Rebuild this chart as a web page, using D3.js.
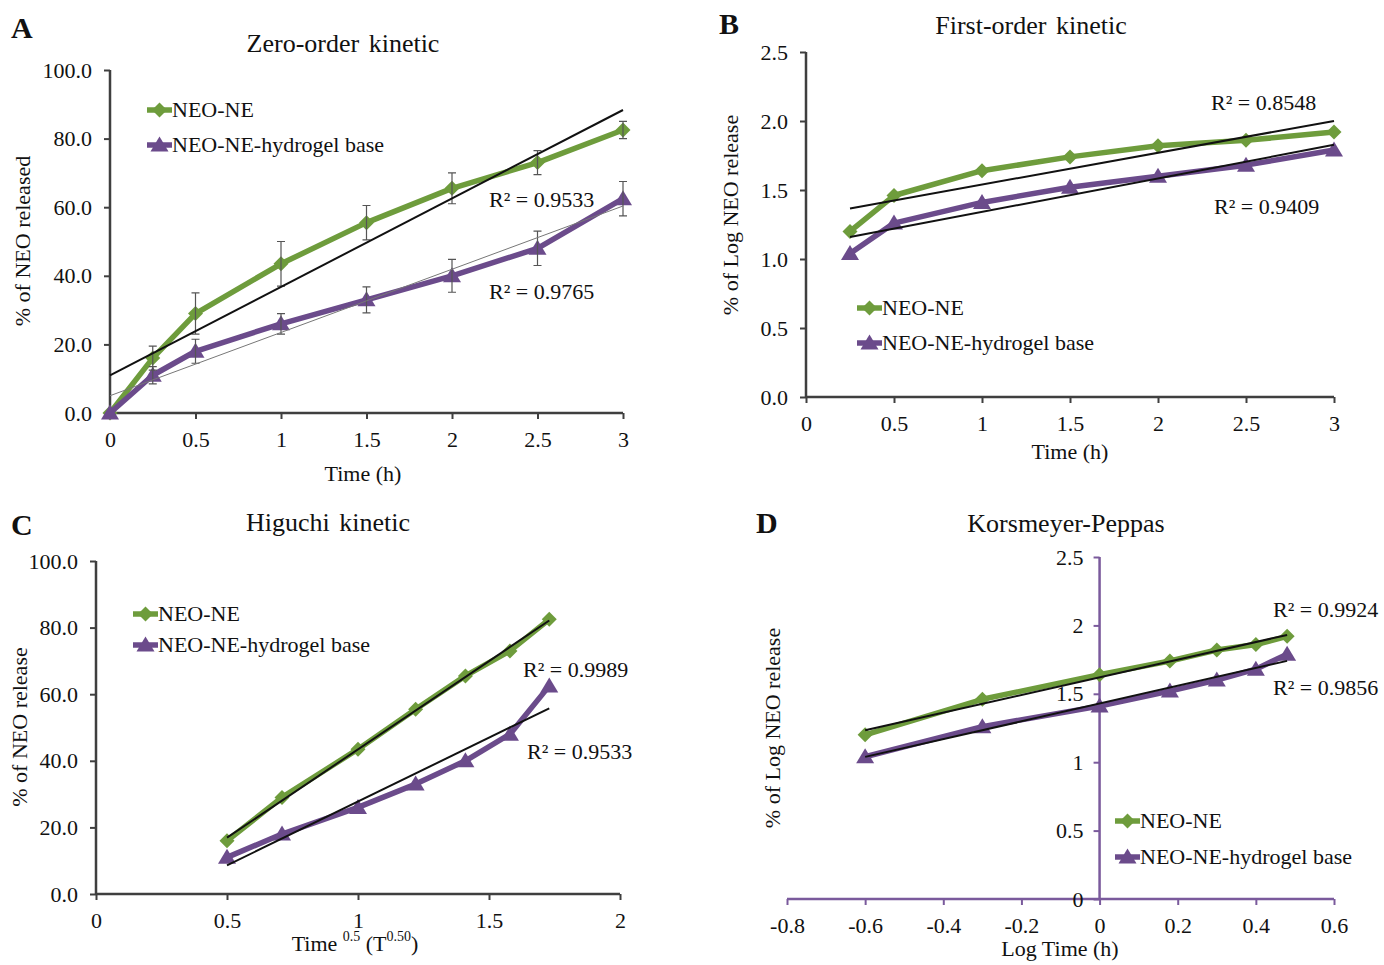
<!DOCTYPE html>
<html><head><meta charset="utf-8">
<script src="https://cdn.jsdelivr.net/npm/d3@7"></script>
<style>
body{margin:0;background:#fff;}
svg{display:block;font-family:"Liberation Serif","Times New Roman",serif;}
</style></head>
<body><svg id="c" width="1384" height="965"></svg>
<script>
// ---------- data ----------
const timeA = [0, 0.25, 0.5, 1, 1.5, 2, 2.5, 3];
const neoA = [0, 16, 29, 43.5, 55.5, 65.5, 73, 82.5];
const gelA = [0, 11, 18, 26, 33, 40, 48, 62.5];
const neoErrA = [0, 3.5, 6, 6.5, 5, 4.5, 3.5, 2.5];
const gelErrA = [0, 2.5, 3.5, 3, 3.8, 4.8, 5, 5];

const timeB = [0.25, 0.5, 1, 1.5, 2, 2.5, 3];
const neoB = [1.20, 1.46, 1.64, 1.74, 1.82, 1.86, 1.92];
const gelB = [1.04, 1.26, 1.41, 1.52, 1.60, 1.68, 1.79];

const sqrtTimeC = [0.5, 0.71, 1, 1.22, 1.41, 1.58, 1.73];
const neoC = [16, 29, 43.5, 55.5, 65.5, 73, 82.5];
const gelC = [11, 18, 26, 33, 40, 48, 62.5];

const logTimeD = [-0.6, -0.3, 0, 0.18, 0.3, 0.4, 0.48];
const neoD = [1.20, 1.46, 1.64, 1.74, 1.82, 1.86, 1.92];
const gelD = [1.04, 1.26, 1.41, 1.52, 1.60, 1.68, 1.79];

const seriesNames = ["NEO-NE", "NEO-NE-hydrogel base"];
const r2A = ["R² = 0.9533", "R² = 0.9765"];
const r2B = ["R² = 0.8548", "R² = 0.9409"];
const r2C = ["R² = 0.9989", "R² = 0.9533"];
const r2D = ["R² = 0.9924", "R² = 0.9856"];

const ticksPct = [0, 20, 40, 60, 80, 100];
const ticksLog = [0, 0.5, 1, 1.5, 2, 2.5];
const ticksTime = [0, 0.5, 1, 1.5, 2, 2.5, 3];
const ticksSqrt = [0, 0.5, 1, 1.5, 2];
const ticksLogT = [-0.8, -0.6, -0.4, -0.2, 0, 0.2, 0.4, 0.6];

// ---------- style ----------
const GREEN = "#6e9c3c", PURPLE = "#6b4b8b", AXIS = "#3f3f3f", DAXIS = "#7a5a9c";
const svg = d3.select("#c");

const diamond = "M0,-7.5L7.5,0L0,7.5L-7.5,0Z";
const tri = "M0,-8.5L9,6.5L-9,6.5Z";

function linreg(xs, ys) {
  const n = xs.length, mx = d3.mean(xs), my = d3.mean(ys);
  let sxy = 0, sxx = 0;
  for (let i = 0; i < n; i++) { sxy += (xs[i]-mx)*(ys[i]-my); sxx += (xs[i]-mx)**2; }
  const b = sxy / sxx; return {a: my - b*mx, b};
}

function panel(cfg) {
  const g = svg.append("g");
  const x = d3.scaleLinear().domain(cfg.xd).range(cfg.xr);
  const y = d3.scaleLinear().domain(cfg.yd).range(cfg.yr);
  const axColor = cfg.axisColor || AXIS;
  const yAxisX = cfg.yAxisAt !== undefined ? x(cfg.yAxisAt) : cfg.xr[0];

  const xa = g.append("g").attr("transform", `translate(0,${cfg.yr[0]})`)
    .call(d3.axisBottom(x).tickValues(cfg.xt).tickSize(6).tickPadding(12).tickFormat(cfg.xf));
  const ya = g.append("g").attr("transform", `translate(${yAxisX},0)`)
    .call(d3.axisLeft(y).tickValues(cfg.yt).tickSize(6).tickPadding(cfg.yPad || 12).tickFormat(cfg.yf));
  [xa, ya].forEach(a => {
    a.select(".domain").attr("stroke", axColor).attr("stroke-width", 2.5);
    a.selectAll(".tick line").attr("stroke", axColor).attr("stroke-width", 2);
    a.selectAll("text").attr("fill", "#111").style("font-size", "22px").style("font-family", "Liberation Serif");
  });
  xa.select(".domain").attr("d", `M${cfg.xr[0]},0H${cfg.xr[1]}`);
  ya.select(".domain").attr("d", `M0,${cfg.yr[0]}V${cfg.yr[1]}`);

  const sets = [
    {xs: cfg.xs, ys: cfg.neo, err: cfg.neoErr, color: GREEN, mark: diamond},
    {xs: cfg.xs, ys: cfg.gel, err: cfg.gelErr, color: PURPLE, mark: tri}
  ];
  const line = d3.line().x(d => x(d[0])).y(d => y(d[1]));
  sets.forEach(s => {
    const pts = s.xs.map((v, i) => [v, s.ys[i]]);
    g.append("path").attr("d", line(pts)).attr("fill", "none")
      .attr("stroke", s.color).attr("stroke-width", 5.5).attr("stroke-linejoin", "round");
    g.selectAll(null).data(pts).enter().append("path")
      .attr("d", s.mark).attr("transform", d => `translate(${x(d[0])},${y(d[1])})`)
      .attr("fill", s.color);
  });
  sets.forEach(s => {
    if (!s.err) return;
    s.xs.forEach((v, i) => {
      const e = s.err[i]; if (!e) return;
      const cx = x(v), y1 = y(s.ys[i]+e), y2 = y(s.ys[i]-e);
      g.append("path").attr("d", `M${cx},${y1}V${y2}M${cx-4},${y1}H${cx+4}M${cx-4},${y2}H${cx+4}`)
        .attr("stroke", "#555").attr("stroke-width", 1.2).attr("fill", "none");
    });
  });
  sets.forEach((s, k) => {
    const r = linreg(s.xs, s.ys);
    const x0 = d3.min(s.xs), x1 = d3.max(s.xs);
    const st = cfg.trendStyles[k];
    g.append("line").attr("x1", x(x0)).attr("x2", x(x1))
      .attr("y1", y(r.a + r.b*x0)).attr("y2", y(r.a + r.b*x1))
      .attr("stroke", st.c).attr("stroke-width", st.w);
  });
  cfg.r2.forEach((t, k) => {
    g.append("text").attr("x", cfg.r2pos[k][0]).attr("y", cfg.r2pos[k][1] + 2)
      .attr("dominant-baseline", "middle").style("font-size", "22px").attr("fill", "#111").text(t);
  });
  seriesNames.forEach((name, k) => {
    const lx = cfg.leg[0], ly = cfg.leg[1] + k*cfg.legGap;
    const col = k === 0 ? GREEN : PURPLE;
    g.append("line").attr("x1", lx).attr("x2", lx+25).attr("y1", ly).attr("y2", ly)
      .attr("stroke", col).attr("stroke-width", 5.5);
    g.append("path").attr("d", k === 0 ? diamond : tri)
      .attr("transform", `translate(${lx+12.5},${ly})`).attr("fill", col);
    g.append("text").attr("x", lx+25).attr("y", ly + 2).attr("dominant-baseline", "middle")
      .style("font-size", "22px").attr("fill", "#111").text(name);
  });
  g.append("text").attr("x", cfg.title[1]).attr("y", cfg.title[2] + 2).attr("text-anchor", "middle")
    .attr("dominant-baseline", "middle").style("font-size", "26px").style("word-spacing", "3px")
    .attr("fill", "#111").text(cfg.title[0]);
  g.append("text").attr("x", cfg.letter[1]).attr("y", cfg.letter[2])
    .style("font-size", "30px").style("font-weight", "bold").attr("fill", "#111").text(cfg.letter[0]);
  g.append("text").attr("transform", `translate(${cfg.ytitle[1]},${cfg.ytitle[2]}) rotate(-90)`)
    .attr("text-anchor", "middle").attr("dominant-baseline", "middle")
    .style("font-size", "22px").attr("fill", "#111").text(cfg.ytitle[0]);
  const xt = g.append("text").attr("x", cfg.xtitle[1]).attr("y", cfg.xtitle[2] + 2).attr("text-anchor", "middle")
    .attr("dominant-baseline", "middle").style("font-size", "22px").attr("fill", "#111");
  if (cfg.xtitleParts) {
    cfg.xtitleParts.forEach(p => {
      const ts = xt.append("tspan").text(p.t);
      if (p.sup) ts.attr("dy", p.dy).style("font-size", "14px");
      else if (p.dy) ts.attr("dy", p.dy);
    });
  } else xt.text(cfg.xtitle[0]);
}

const fmt1 = d3.format(".1f");
const plain = d => String(+d.toFixed(1));

panel({
  xd: [0, 3], xr: [110, 623], yd: [0, 100], yr: [413, 70],
  xt: ticksTime, yt: ticksPct, xf: plain, yf: fmt1,
  xs: timeA, neo: neoA, gel: gelA, neoErr: neoErrA, gelErr: gelErrA,
  trendStyles: [{c: "#111", w: 2}, {c: "#777", w: 1}],
  r2: r2A, r2pos: [[489, 200], [489, 292]],
  leg: [147, 110], legGap: 35,
  title: ["Zero-order kinetic", 343, 44], letter: ["A", 11, 38],
  ytitle: ["% of NEO released", 25, 241], xtitle: ["Time (h)", 363, 474]
});

panel({
  xd: [0, 3], xr: [806, 1334], yd: [0, 2.5], yr: [397, 52],
  xt: ticksTime, yt: ticksLog, xf: plain, yf: fmt1,
  xs: timeB, neo: neoB, gel: gelB,
  trendStyles: [{c: "#111", w: 2}, {c: "#111", w: 2}],
  r2: r2B, r2pos: [[1211, 103], [1214, 207]],
  leg: [857, 308], legGap: 35,
  title: ["First-order kinetic", 1031, 26], letter: ["B", 719, 34],
  ytitle: ["% of Log NEO release", 733, 215], xtitle: ["Time (h)", 1070, 452]
});

panel({
  xd: [0, 2], xr: [96, 620], yd: [0, 100], yr: [894, 561],
  xt: ticksSqrt, yt: ticksPct, xf: plain, yf: fmt1,
  xs: sqrtTimeC, neo: neoC, gel: gelC,
  trendStyles: [{c: "#111", w: 2}, {c: "#111", w: 2}],
  r2: r2C, r2pos: [[523, 670], [527, 752]],
  leg: [133, 614], legGap: 31,
  title: ["Higuchi kinetic", 328, 523], letter: ["C", 11, 535],
  ytitle: ["% of NEO release", 22, 727], xtitle: ["", 355, 944],
  xtitleParts: [{t: "Time "}, {t: "0.5", sup: true, dy: "-8"}, {t: " (T", dy: "8"}, {t: "0.50", sup: true, dy: "-8"}, {t: ")", dy: "8"}]
});

panel({
  xd: [-0.8, 0.6], xr: [787, 1334], yd: [0, 2.5], yr: [899, 557],
  xt: ticksLogT, yt: ticksLog, xf: plain, yf: plain, yAxisAt: 0, axisColor: DAXIS, yPad: 10,
  xs: logTimeD, neo: neoD, gel: gelD,
  trendStyles: [{c: "#111", w: 2}, {c: "#111", w: 2}],
  r2: r2D, r2pos: [[1273, 610], [1273, 688]],
  leg: [1115, 821], legGap: 36,
  title: ["Korsmeyer-Peppas", 1066, 524], letter: ["D", 756, 533],
  ytitle: ["% of Log NEO release", 775, 728], xtitle: ["Log Time (h)", 1060, 949]
});
</script></body></html>
